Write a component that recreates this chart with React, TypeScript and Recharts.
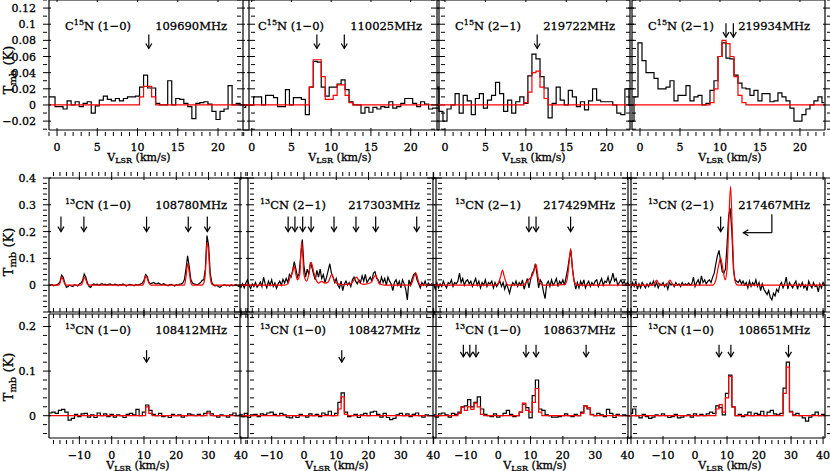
import React from 'react';
import { LineChart, Line, XAxis, YAxis, ReferenceDot, ReferenceLine } from 'recharts';

// Spectra are kept in mK. Observed channels: value i sits at start + i * step (km/s).
// Fits are [velocity, mK] pairs read off the red curves.

// --- C15N row (0.5 km/s channels starting at -1 km/s) ---
const c15n109690Obs = [
  10, 10, -2, -2, -5, 5, 0, 4, -2, 2,
  4, -10, -1, 6, 11, 7, 5, 8, 5, 8,
  10, 10, 11, 22, 37, 21, 21, 2, 0, 0,
  30, 0, 8, 7, 2, -2, -17, 2, 3, 4,
  1, -8, -18, -8, -5, 24, 0, 2, 0, 0,
];
const c15n109690Fit = [[-1, 0], [10, 0], [10.5, 10], [11, 23], [11.5, 23], [12, 10], [12.5, 0], [24, 0]];

const c15n110025Obs = [
  -3, 0, 0, 10, 10, 0, 12, 12, 9, -2,
  -2, 19, 0, 9, 9, 7, -12, 22, 54, 53,
  22, 11, 22, 22, 26, 31, 19, 4, 0, 0,
  -10, -3, -9, -3, -5, -2, -3, 4, -4, -2,
  2, 8, 8, 2, -2, 4, 1, -5, -4, -4,
];
const c15n110025Fit = [
  [-1.5, 0], [7, 0], [7.5, 22], [8, 56], [8.5, 56], [9, 35], [9.5, 7], [10, 7],
  [10.5, 12], [11, 25], [11.5, 25], [12, 12], [12.5, 3], [13, 0], [24, 0],
];

const c15n219722Obs = [
  22, -8, -20, -5, 0, 14, -10, 12, 5, -12,
  8, 14, -4, 6, 12, 28, 14, -8, 6, -10,
  4, 10, 2, 36, 63, 57, 35, 21, -16, 2,
  22, 6, 0, 18, 10, -2, 4, -6, 5, 20,
  6, 4, 4, 4, 0, -10, -12, 20, 0,
];
const c15n219722Fit = [[-1, 0], [9.5, 0], [10, 3], [10.5, 16], [11, 40], [11.5, 42], [12, 22], [12.5, 8], [13, 0], [23, 0]];

const c15n219934Obs = [
  -20, 10, 77, 55, 40, 40, 33, 20, 20, 22,
  30, 5, 12, 12, 24, 5, 10, 12, 0, 2,
  18, 30, 60, 77, 58, 57, 37, 27, 21, 20,
  12, 18, 5, 14, 14, 4, 5, 15, 10, 5,
  -4, -20, -20, -12, -5, 0, 5, 10, 3,
];
const c15n219934Fit = [
  [-1, 0], [8.5, 0], [9, 3], [9.5, 20], [10, 60], [10.5, 80], [11, 76],
  [11.5, 60], [12, 35], [12.5, 12], [13, 3], [13.5, 0], [23.5, 0],
];

// --- 13CN middle row (0.5 km/s channels starting at -20 km/s) ---
const cn108780Obs = [
  0, 2, 0, 3, -2, 0, 2, 5, 12, 38,
  30, 8, -8, -5, 0, -3, -5, 2, 0, -3,
  5, 8, 18, 42, 30, 8, -5, -8, 2, 5,
  2, 4, 0, 3, 6, 2, 4, 0, 3, 5,
  2, 0, 4, 2, -2, 3, 0, 5, 2, -3,
  0, 3, 2, 0, -2, 3, 0, 2, 5, 8,
  18, 40, 32, 12, 5, 8, 10, 6, 5, 8,
  4, 2, 6, 3, 0, -2, 2, 3, 0, -3,
  2, 0, 3, 5, 8, 20, 60, 110, 70, 22,
  8, 5, 3, 2, 5, 10, 18, 20, 60, 185,
  150, 45, 10, 2, -3, 0, -5, -8, -3, 0,
  2, -2, 0, -3, 2, -2, 0, 3, -2, -5,
  -3, 0, 2, 0, 0,
];
const cn108780Fit = [
  [-20, 0], [-16.5, 0], [-16, 8], [-15.5, 30], [-15, 20], [-14.5, 4], [-14, 0],
  [-9.5, 0], [-9, 10], [-8.5, 30], [-8, 20], [-7.5, 4], [-7, 0],
  [9.5, 0], [10, 8], [10.5, 35], [11, 26], [11.5, 8], [12, 2], [12.5, 0],
  [22.5, 0], [23, 30], [23.5, 80], [24, 50], [24.5, 10], [25, 0],
  [28, 0], [28.5, 8], [29, 45], [29.5, 160], [30, 120], [30.5, 30], [31, 4], [31.5, 0], [42, 0],
];

const cn217303Obs = [
  0, -8, 5, -10, 8, 20, 0, -12, 5, -5,
  10, -8, 0, 12, -5, 30, 5, -10, 15, 0,
  20, -5, 8, -12, 5, 15, 0, 22, 8, 25,
  10, 40, 30, 55, 88, 60, 30, 45, 110, 170,
  70, 30, 60, 40, 85, 65, 40, 20, 55, 30,
  60, 25, 40, 10, 30, 55, 80, 45, 30, 10,
  25, 0, -10, 15, -20, 5, 15, 0, 10, -5,
  20, 30, 15, 5, 20, 10, 35, 15, 40, 10,
  20, 30, 15, 45, 50, 25, 20, 5, 30, 10,
  25, 0, 30, 15, 5, -20, 10, 20, 0, 15,
  -10, 20, 5, -15, -55, 20, 0, 25, 40, 45,
  20, 5, -10, 10, 0, 15, -5, 8, 0, 5,
  0, 3, 0, 0, 0,
];
const cn217303Fit = [
  [-20, 0], [-6, 0], [-5, 5], [-4.3, 28], [-3.5, 50], [-3, 70], [-2.5, 40], [-2, 20],
  [-1.3, 40], [-0.7, 165], [0, 40], [0.8, 15], [1.5, 40], [2.2, 85], [3, 50], [3.6, 25],
  [4.5, 8], [5.5, 14], [6.5, 8], [7.5, 12], [8.6, 40], [9.6, 12], [10.5, 5], [12, 2],
  [14.5, 5], [16.3, 30], [17.3, 8], [18.5, 3], [20.5, 8], [22.2, 37], [23.3, 6], [25, 0],
  [33, 0], [34.6, 46], [35.8, 3], [37, 0], [42, 0],
];

const cn217429Obs = [
  5, -15, 10, -10, 5, -5, 15, 0, -10, 10,
  5, 20, -5, 10, 5, 15, 45, 10, 25, 0,
  15, 20, 5, 15, -5, 10, 25, 0, 15, -10,
  10, 0, 20, -5, 10, 5, 15, -10, 10, -5,
  5, 15, -5, 10, -15, 5, -10, -30, -5, 10,
  0, 15, -5, 10, 0, 20, -15, 5, 25, -10,
  20, 45, 55, 80, 40, -10, 20, 10, -25, -50,
  5, 15, -5, 20, 0, 10, 25, -5, 15, 5,
  20, 0, 30, 60, 100, 130, 60, 15, -15, 10,
  -10, 15, 0, 20, -10, 5, 15, -5, 10, 0,
  15, 20, -5, 10, 25, 0, 15, 10, 30, 5,
  20, 45, 15, 25, 0, 10, 20, 5, 15, 0,
  10, 0, 0, 0, 0,
];
const cn217429Fit = [
  [-20, 0], [-1, 0], [0, 8], [0.8, 35], [1.3, 56], [1.9, 30], [2.6, 6], [3.3, 0],
  [7.5, 0], [8.5, 8], [9.5, 22], [10.3, 30], [11, 50], [11.7, 78], [12.4, 25], [13.2, 4], [14, 0],
  [20.5, 2], [21.3, 20], [21.9, 80], [22.4, 137], [22.9, 70], [23.5, 15], [24.3, 2], [25, 0], [42, 0],
];

const cn217467Obs = [
  -10, 10, -5, 15, -15, 5, -10, 10, 0, -10,
  5, -5, 10, 0, 15, -5, 10, -10, 5, 0,
  10, -5, 5, -15, 10, 0, 5, -5, 10, 0,
  5, -5, 10, 0, 5, 0, 8, 0, 5, 30,
  -5, 10, 20, 0, 35, 10, 20, 5, 15, 20,
  10, 30, 45, 80, 110, 130, 90, 50, 45, 60,
  150, 260, 287, 200, 60, 20, 15, 10, 20, 5,
  15, 0, 10, -10, 15, -5, 10, 0, 20, -5,
  10, -20, 5, -15, -25, -35, -20, -45, -55, -30,
  -40, -15, -25, 0, 10, -10, 5, 30, -15, 10,
  0, -10, 5, 15, -15, 5, -5, 10, -10, 0,
  -20, 15, 0, -10, 10, -5, 0, -25, 5, -10,
  10, 0, 0, 0, 0,
];
const cn217467Fit = [
  [-21, 0], [-13, 0], [-12, 19], [-11, 0], [-9, 0], [-7.8, 19], [-6.8, 0],
  [5.5, 0], [6.5, 20], [7.3, 70], [8, 102], [8.7, 60], [9.4, 20], [10, 60],
  [10.5, 220], [11.1, 369], [11.7, 180], [12.2, 40], [12.8, 6], [13.5, 0], [42, 0],
];

// --- 13CN bottom row (1 km/s channels starting at -20 km/s) ---
const cn108412Obs = [
  0, 6, 8, 5, 12, 14, 8, -10, -6, 3,
  -2, 4, 5, -3, 2, -4, 6, 0, 4, -2,
  3, -3, 2, 0, -4, 3, 5, 2, 14, 0,
  8, 24, 12, 3, 0, 5, -2, 0, -4, 3,
  0, 2, -3, 0, 4, 2, 0, 3, 0, 5,
  10, 4, 0, -3, 2, 0, -3, 2, 6, 0,
  2, -2, 0,
];
const cn108412Fit = [[-20, 0], [10, 0], [11, 20], [12, 5], [13, 0], [29, 0], [30, 6], [31, 0], [42, 0]];

const cn108427Obs = [
  3, -2, 5, -4, 2, 3, -2, 4, 2, 6,
  8, 3, 0, 5, 2, -3, -5, 0, -4, 3,
  0, -3, 4, 0, 3, -2, 6, 2, 10, 0,
  5, 30, 51, 8, -2, 0, 3, -4, 2, 5,
  0, 8, 10, 3, -3, 5, -4, -9, -6, 2,
  5, 0, 4, -2, 3, 6, 0, -3, 2, 0,
  0, 0, 0,
];
const cn108427Fit = [[-20, 0], [10, 0], [11, 15], [12, 42], [13, 3], [14, 0], [42, 0]];

const cn108637Obs = [
  2, -3, 4, 6, 2, -3, 5, 3, 8, 20,
  22, 36, 20, 30, 42, 15, 3, 0, -2, 4,
  -3, 0, 5, 12, 3, -2, 0, 8, 26, 18,
  -5, 45, 80, 15, 12, 2, 0, -3, -3, -2,
  0, 4, 0, -2, 3, 0, 8, 22, 15, 3,
  0, 5, 2, -2, 14, 5, -4, 3, 0, 2,
  0, 0, 0,
];
const cn108637Fit = [
  [-20, 0], [-13, 0], [-12, 5], [-11, 19], [-10, 12], [-9, 20], [-8, 14], [-7, 28], [-6, 20],
  [-5, 3], [-4, 0], [6, 0], [7, 8], [8, 28], [9, 12], [10, 8], [11, 30], [12, 61], [13, 8],
  [14, 0], [25, 0], [26, 5], [27, 22], [28, 18], [29, 2], [30, 0], [42, 0],
];

const cn108651Obs = [
  5, 15, 0, -5, 3, -2, -6, -3, 2, 0,
  4, 0, -4, -2, 3, -5, -3, 0, 2, -3,
  4, 0, 3, 0, 4, 8, 5, 22, 18, 2,
  50, 91, 20, 0, 3, -2, 2, 8, 0, 5,
  3, 10, 0, 8, 12, 4, 2, 5, 62, 120,
  10, 2, 5, 0, -5, -12, -3, 2, 8, 0,
  3, 0, 0,
];
const cn108651Fit = [
  [-21, 0], [6, 0], [7, 15], [8, 25], [9, 8], [10, 40], [11, 88], [12, 20], [13, 0],
  [27, 0], [28, 50], [29, 109], [30, 8], [31, 0], [42, 0],
];

// axis labels
const topXLabels = [0, 5, 10, 15, 20];
const lowXLabels = [-10, 0, 10, 20, 30, 40];
const topYLabels = [-0.02, 0, 0.02, 0.04, 0.06, 0.08, 0.1, 0.12];
const midYLabels = [0, 0.1, 0.2, 0.3, 0.4];
const botYLabels = [0, 0.1, 0.2];

const serif = '"DejaVu Serif", serif';

const range = (a: number, b: number, s: number) => {
  const out: number[] = [];
  for (let v = a; v <= b + 1e-9; v += s) out.push(Math.round(v * 1000) / 1000);
  return out;
};
const near = (list: number[] | null, v: number) => !!list && list.some((m) => Math.abs(m - v) < 1e-6);
const fmt = (v: number) => (v < 0 ? '\u2212' : '') + String(Math.abs(v));

const rows: Record<string, any> = {
  top: {
    yDomain: [-0.031, 0.13],
    xMajor: topXLabels, xTicks: range(-1, 24, 1), xLabels: topXLabels,
    yMajor: topYLabels, yTicks: range(-0.03, 0.13, 0.01), yLabels: topYLabels,
    obsType: 'step', fitType: 'step', arrowLen: 14,
  },
  mid: {
    yDomain: [-0.1, 0.4],
    xMajor: [-20, ...lowXLabels], xTicks: range(-20, 42, 2), xLabels: null,
    yMajor: [-0.1, ...midYLabels], yTicks: range(-0.1, 0.4, 0.02), yLabels: midYLabels,
    obsType: 'linear', fitType: 'monotone', arrowLen: 15,
  },
  bot: {
    yDomain: [-0.05, 0.228],
    xMajor: [-20, ...lowXLabels], xTicks: range(-20, 42, 2), xLabels: lowXLabels,
    yMajor: botYLabels, yTicks: range(-0.04, 0.22, 0.02), yLabels: botYLabels,
    obsType: 'step', fitType: 'step', arrowLen: 12,
  },
};

type Panel = {
  row: 'top' | 'mid' | 'bot';
  col: number;
  box: [number, number, number, number];
  xDomain: [number, number];
  obs: number[];
  start: number;
  step: number;
  fit: number[][];
  arrows: number[];
  tip: number;
  mol: string;
  trans: string;
  freq: string;
  molX: number;
  freqR: number;
  bend?: { x: number; top: number; base: number; end: number };
};

const panels: Panel[] = [
  { row: 'top', col: 0, box: [49, 0, 200, 130], xDomain: [-1, 23.85], obs: c15n109690Obs, start: -1, step: 0.5, fit: c15n109690Fit, arrows: [11.4], tip: 0.07, mol: 'C15N', trans: '(1\u22120)', freq: '109690MHz', molX: 65, freqR: 227 },
  { row: 'top', col: 1, box: [243, 0, 196, 130], xDomain: [-1.09, 23.56], obs: c15n110025Obs, start: -1, step: 0.5, fit: c15n110025Fit, arrows: [8.2, 11.65], tip: 0.07, mol: 'C15N', trans: '(1\u22120)', freq: '110025MHz', molX: 258, freqR: 422 },
  { row: 'top', col: 2, box: [437, 0, 193, 130], xDomain: [-0.99, 22.88], obs: c15n219722Obs, start: -1, step: 0.5, fit: c15n219722Fit, arrows: [11.4], tip: 0.07, mol: 'C15N', trans: '(2\u22121)', freq: '219722MHz', molX: 455, freqR: 615 },
  { row: 'top', col: 3, box: [632, 0, 193, 130], xDomain: [-1, 23.13], obs: c15n219934Obs, start: -1, step: 0.5, fit: c15n219934Fit, arrows: [10.75, 11.67], tip: 0.084, mol: 'C15N', trans: '(2\u22121)', freq: '219934MHz', molX: 648, freqR: 810 },

  { row: 'mid', col: 0, box: [49, 178, 199, 134], xDomain: [-19.4, 42.2], obs: cn108780Obs, start: -20, step: 0.5, fit: cn108780Fit, arrows: [-15.7, -8.6, 10.8, 23.7, 29.6], tip: 0.2, mol: '13CN', trans: '(1\u22120)', freq: '108780MHz', molX: 65, freqR: 227 },
  { row: 'mid', col: 1, box: [240, 178, 196, 134], xDomain: [-19.8, 40.87], obs: cn217303Obs, start: -20, step: 0.5, fit: cn217303Fit, arrows: [-4.9, -2.8, -0.4, 2.2, 9.3, 16.1, 22.2, 34.9], tip: 0.2, mol: '13CN', trans: '(2\u22121)', freq: '217303MHz', molX: 260, freqR: 420 },
  { row: 'mid', col: 2, box: [433, 178, 198, 134], xDomain: [-20.2, 41.1], obs: cn217429Obs, start: -20, step: 0.5, fit: cn217429Fit, arrows: [9.5, 11.7, 22.4], tip: 0.2, mol: '13CN', trans: '(2\u22121)', freq: '217429MHz', molX: 455, freqR: 615 },
  { row: 'mid', col: 3, box: [628, 178, 197, 134], xDomain: [-20.94, 40.6], obs: cn217467Obs, start: -20, step: 0.5, fit: cn217467Fit, arrows: [8.0], tip: 0.2, mol: '13CN', trans: '(2\u22121)', freq: '217467MHz', molX: 648, freqR: 810, bend: { x: 24, top: 0.265, base: 0.196, end: 15.1 } },

  { row: 'bot', col: 0, box: [49, 314, 199, 124], xDomain: [-19.4, 42.2], obs: cn108412Obs, start: -20, step: 1, fit: cn108412Fit, arrows: [10.8], tip: 0.12, mol: '13CN', trans: '(1\u22120)', freq: '108412MHz', molX: 65, freqR: 227 },
  { row: 'bot', col: 1, box: [240, 314, 196, 124], xDomain: [-19.8, 40.87], obs: cn108427Obs, start: -20, step: 1, fit: cn108427Fit, arrows: [11.7], tip: 0.12, mol: '13CN', trans: '(1\u22120)', freq: '108427MHz', molX: 260, freqR: 420 },
  { row: 'bot', col: 2, box: [433, 314, 198, 124], xDomain: [-20.2, 41.1], obs: cn108637Obs, start: -20, step: 1, fit: cn108637Fit, arrows: [-10.8, -8.8, -6.9, 8.6, 11.7, 27.2], tip: 0.132, mol: '13CN', trans: '(1\u22120)', freq: '108637MHz', molX: 455, freqR: 615 },
  { row: 'bot', col: 3, box: [628, 314, 197, 124], xDomain: [-20.94, 40.6], obs: cn108651Obs, start: -20, step: 1, fit: cn108651Fit, arrows: [7.5, 11.2, 29.2], tip: 0.132, mol: '13CN', trans: '(1\u22120)', freq: '108651MHz', molX: 648, freqR: 810 },
];

const xTitles = [
  { x: 139, y: 158 }, { x: 340, y: 158 }, { x: 534, y: 158 }, { x: 730, y: 158 },
  { x: 138, y: 466 }, { x: 337, y: 466 }, { x: 535, y: 466 }, { x: 730, y: 466 },
];
const yTitles = [70, 252, 377];

// plot box sits ML/MT px inside each chart; axes take 1px of that
const ML = 50, MR = 12, MT = 12, MB = 36;
const axisLine = { stroke: '#000', strokeWidth: 1.2 };
const bolden = { WebkitTextStroke: '0.3px #000' } as React.CSSProperties;

function tickFor(side: string, majors: number[], labels: number[] | null) {
  return (p: any) => {
    const v = p.payload.value;
    const len = near(majors, v) ? 8 : 4;
    const { x, y } = p;
    let l = { x1: x, y1: y, x2: x, y2: y };
    if (side === 'bottom') l = { x1: x, y1: y, x2: x, y2: y - len };
    if (side === 'top') l = { x1: x, y1: y, x2: x, y2: y + len };
    if (side === 'left') l = { x1: x, y1: y, x2: x + len, y2: y };
    if (side === 'right') l = { x1: x, y1: y, x2: x - len, y2: y };
    const show = near(labels, v);
    const txt = { fontSize: 11, fontFamily: serif, fill: '#000', stroke: '#000', strokeWidth: 0.3 };
    return (
      <g>
        <line {...l} stroke="#000" strokeWidth={1} />
        {show && side === 'bottom' && (
          <text x={x} y={y + 15} textAnchor="middle" {...txt}>{fmt(v)}</text>
        )}
        {show && side === 'left' && (
          <text x={x - 7} y={y + 4} textAnchor="end" {...txt}>{fmt(v)}</text>
        )}
      </g>
    );
  };
}

const downArrow = (len: number) => (props: any) => {
  const { cx, cy } = props;
  return (
    <g stroke="#000" strokeWidth={1.2} fill="none">
      <line x1={cx} y1={cy - len} x2={cx} y2={cy} />
      <polyline points={`${cx - 3},${cy - 5} ${cx},${cy} ${cx + 3},${cy - 5}`} />
    </g>
  );
};
const leftHead = (props: any) => {
  const { cx, cy } = props;
  return <polyline points={`${cx + 5},${cy - 3} ${cx},${cy} ${cx + 5},${cy + 3}`} stroke="#000" strokeWidth={1.2} fill="none" />;
};

function SpectrumPanel({ p }: { p: Panel }) {
  const [bx, by, bw, bh] = p.box;
  const row = rows[p.row];
  const inX = (v: number) => v >= p.xDomain[0] - 1e-6 && v <= p.xDomain[1] + 1e-6;
  const xt = row.xTicks.filter(inX);
  const obs = p.obs.map((t, i) => ({ v: p.start + i * p.step, t: t / 1000 }));
  const fit = p.fit.map(([v, t]) => ({ v, t: t / 1000 }));
  return (
    <div style={{ position: 'absolute', left: bx - ML, top: by - MT }}>
      <LineChart width={bw + ML + MR} height={bh + MT + MB} margin={{ top: MT - 1, right: MR - 1, bottom: MB - 1, left: ML - 1 }}>
        <XAxis dataKey="v" type="number" domain={p.xDomain} allowDataOverflow ticks={xt} interval={0}
          height={1} tickLine={false} tickMargin={0} axisLine={axisLine}
          tick={tickFor('bottom', row.xMajor, row.xLabels)} />
        <XAxis xAxisId="top" orientation="top" dataKey="v" type="number" domain={p.xDomain} allowDataOverflow ticks={xt} interval={0}
          height={1} tickLine={false} tickMargin={0} axisLine={axisLine}
          tick={tickFor('top', row.xMajor, null)} />
        <YAxis type="number" domain={row.yDomain} allowDataOverflow ticks={row.yTicks} interval={0}
          width={1} tickLine={false} tickMargin={0} axisLine={axisLine}
          tick={tickFor('left', row.yMajor, p.col === 0 ? row.yLabels : null)} />
        <YAxis yAxisId="right" orientation="right" type="number" domain={row.yDomain} allowDataOverflow ticks={row.yTicks} interval={0}
          width={1} tickLine={false} tickMargin={0} axisLine={axisLine}
          tick={tickFor('right', row.yMajor, null)} />
        <Line data={obs} dataKey="t" type={row.obsType} stroke="#000" strokeWidth={1.2} dot={false} activeDot={false} isAnimationActive={false} />
        <Line data={fit} dataKey="t" type={row.fitType} stroke="#ff0000" strokeWidth={1.2} dot={false} activeDot={false} isAnimationActive={false} />
        {p.arrows.map((v, i) => (
          <ReferenceDot key={i} x={v} y={p.tip} r={0} shape={downArrow(row.arrowLen)} />
        ))}
        {p.bend && (
          <ReferenceLine segment={[{ x: p.bend.x, y: p.bend.top }, { x: p.bend.x, y: p.bend.base }]} stroke="#000" strokeWidth={1.2} />
        )}
        {p.bend && (
          <ReferenceLine segment={[{ x: p.bend.x, y: p.bend.base }, { x: p.bend.end, y: p.bend.base }]} stroke="#000" strokeWidth={1.2} />
        )}
        {p.bend && <ReferenceDot x={p.bend.end} y={p.bend.base} r={0} shape={leftHead} />}
      </LineChart>
    </div>
  );
}

const labelY: Record<string, number> = { top: 25.5, mid: 205, bot: 330 };

function MolLabel({ p }: { p: Panel }) {
  const sup = p.mol === 'C15N' ? '15' : '13';
  const cy = labelY[p.row];
  const supEl = <span style={{ fontSize: 8, position: 'relative', top: -5 }}>{sup}</span>;
  return (
    <>
      <div style={{ position: 'absolute', left: p.molX, top: cy - 6, fontSize: 11.5, lineHeight: '12px', whiteSpace: 'nowrap', ...bolden }}>
        {p.mol === 'C15N' ? <>C{supEl}N</> : <>{supEl}CN</>} {p.trans}
      </div>
      <div style={{ position: 'absolute', left: p.freqR, top: cy - 6, fontSize: 11.5, lineHeight: '12px', whiteSpace: 'nowrap', transform: 'translateX(-100%)', ...bolden }}>
        {p.freq}
      </div>
    </>
  );
}

export default function App() {
  return (
    <div style={{ position: 'absolute', left: 0, top: 0, width: 830, height: 471, background: '#fff', overflow: 'hidden', fontFamily: serif, color: '#000' }}>
      {panels.map((p, i) => <SpectrumPanel key={i} p={p} />)}
      {panels.map((p, i) => <MolLabel key={'l' + i} p={p} />)}
      {xTitles.map((t, i) => (
        <div key={'x' + i} style={{ position: 'absolute', left: t.x, top: t.y, transform: 'translate(-50%, -50%)', fontSize: 11, lineHeight: '10px', whiteSpace: 'nowrap', ...bolden }}>
          V<span style={{ fontSize: 8, position: 'relative', top: 2 }}>LSR</span> (km/s)
        </div>
      ))}
      {yTitles.map((cy, i) => (
        <div key={'y' + i} style={{ position: 'absolute', left: 9, top: cy, transform: 'translate(-50%, -50%) rotate(-90deg)', fontSize: 13, lineHeight: '14px', whiteSpace: 'nowrap', ...bolden }}>
          T<span style={{ fontSize: 10, position: 'relative', top: 3 }}>mb</span> (K)
        </div>
      ))}
    </div>
  );
}
